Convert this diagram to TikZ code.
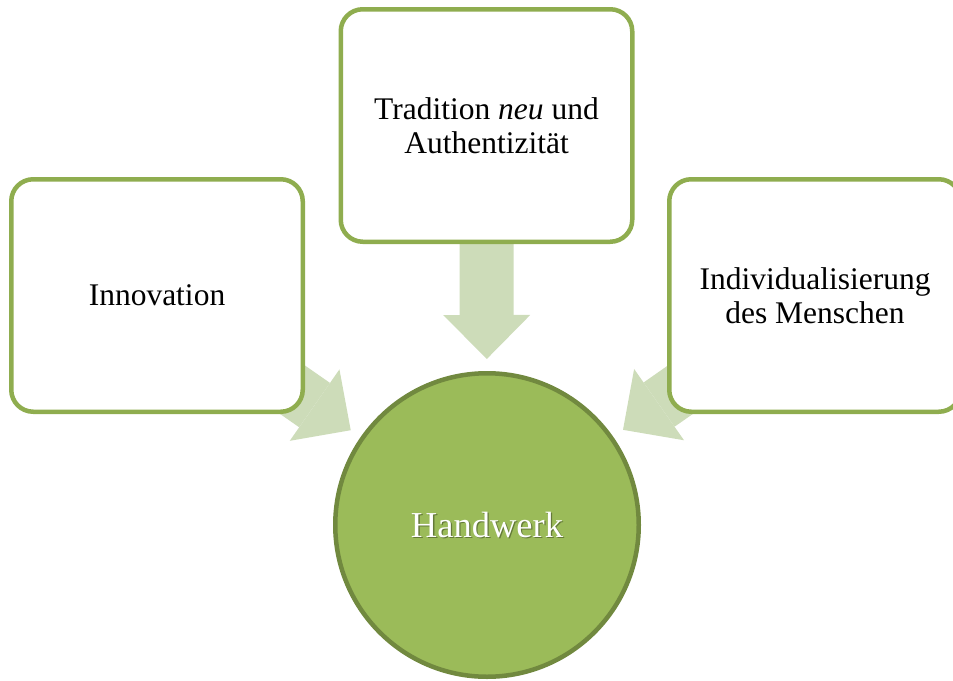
\documentclass[tikz,border=0pt]{standalone}
\usepackage{fontspec}
\setmainfont{Liberation Serif}
\usetikzlibrary{arrows.meta}
\definecolor{boxline}{RGB}{143,173,79}
\definecolor{hubfill}{RGB}{155,187,89}
\definecolor{hubline}{RGB}{113,137,63}
\definecolor{flow}{RGB}{205,220,185}
\pgfdeclarelayer{back}
\pgfsetlayers{back,main}
\begin{document}
\begin{tikzpicture}[x=1pt,y=-1pt,
  idea/.style={draw=boxline, line width=4.5pt, fill=white, rounded corners=22pt,
    minimum width=291.5pt, minimum height=232.5pt, align=center, inner sep=0pt,
    font=\fontsize{31.5}{33.5}\selectfont},
  hub/.style={circle, draw=hubline, line width=4.5pt, fill=hubfill,
    minimum size=303.5pt, inner sep=0pt},
  hubtext/.style={font=\fontsize{36.5}{40}\selectfont, inner sep=0pt},
  flowarrow/.style={draw=flow, line width=54pt,
    -{Triangle[length=44pt,width=87pt,line width=0pt]}, shorten >=166pt}]
\useasboundingbox (0,0) rectangle (953,680);

% the three influences
\node[idea] (top)   at (486.5,125.5) {Tradition \textit{neu} und\\Authentizität};
\node[idea] (left)  at (157,295.5)   {Innovation};
\node[idea] (right) at (815,295.5)   {Individualisierung\\des Menschen};

% the central circle
\node[hub] (hub) at (487,525) {};
\node[hubtext, text=black, opacity=0.35] (hubshadow) at (488.3,526.3) {Handwerk};
\node[hubtext, text=white] (hublabel) at (hub) {Handwerk};

% block arrows pointing into the circle, behind the boxes
\begin{pgfonlayer}{back}
  \draw[flowarrow] (top.center)   -- (hub.center);
  \draw[flowarrow] (left.center)  -- (hub.center);
  \draw[flowarrow] (right.center) -- (hub.center);
\end{pgfonlayer}
\end{tikzpicture}
\end{document}
